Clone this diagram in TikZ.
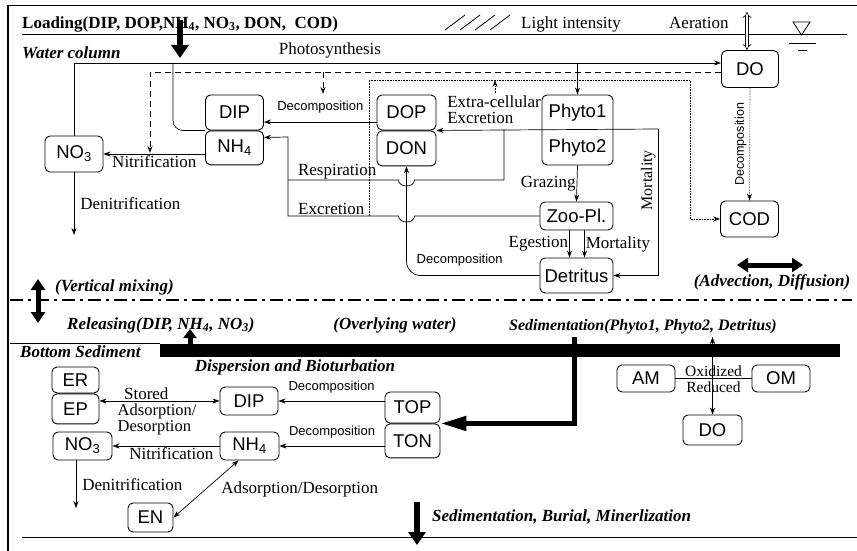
\documentclass[tikz,border=0pt]{standalone}
\usepackage{fontspec}
\setmainfont{Liberation Serif}
\setsansfont{Liberation Sans}
\usetikzlibrary{arrows.meta,positioning}

\begin{document}
\begin{tikzpicture}[x=1pt, y=-1pt,
        box/.style={rectangle, draw=black, line width=0.9pt, rounded corners=5pt, inner sep=0pt, align=center, font=\sffamily\fontsize{18.5}{20}\selectfont},
        lbl/.style={inner sep=1pt, font=\fontsize{17}{18}\selectfont},
        hdr/.style={inner sep=0pt, font=\bfseries\itshape\fontsize{17}{19}\selectfont},
        tinylbl/.style={inner sep=1pt, font=\sffamily\fontsize{13}{14}\selectfont},
        flow/.style={line width=0.7pt},
        arrow/.style={->, line width=0.7pt, >={Stealth[length=7pt,width=5pt]}},
        dblarrow/.style={<->, line width=0.7pt, >={Stealth[length=7pt,width=5pt]}},
        dasharrow/.style={arrow, line width=0.9pt, dash pattern=on 6pt off 4pt},
        dotarrow/.style={arrow, line width=0.6pt, densely dotted},
        fatarrow/.style={-{Triangle[length=13pt,width=17pt]}, line width=6pt},
        fatdbl/.style={{Triangle[length=11pt,width=14pt]}-{Triangle[length=11pt,width=14pt]}, line width=5pt}
    ]

    \useasboundingbox (0,0) rectangle (857,551);

    % Frame and surface
    \draw[line width=1.6pt] (8,5) -- (8,551);
    \draw[line width=0.8pt] (8,5) -- (857,5);
    \draw[line width=0.8pt] (22,34) -- (847,34);
    \draw[line width=0.8pt] (22,537) -- (857,537);

    % Loading, light, aeration
    \node[anchor=west, inner sep=0pt, font=\bfseries\fontsize{17}{19}\selectfont] (loading) at (22,24) {Loading(DIP, DOP,NH\textsubscript{4}, NO\textsubscript{3}, DON,\ \ COD)};
    \coordinate (loadtop) at (180,20);
    \coordinate (loadend) at (180,58);
    \draw[fatarrow] (loadtop) -- (loadend);
    \foreach \x in {445,460,475,490}
        \draw[line width=0.8pt] (\x,30) -- ++(20,-15);
    \node[lbl, anchor=west] (light) at (520,24) {Light intensity};
    \node[lbl, anchor=west] (aeration) at (668,23) {Aeration};

    % Water level mark
    \draw[line width=0.8pt] (793,22) -- (810,22) -- (801.5,35) -- cycle;
    \draw[line width=0.8pt] (789,43) -- (816,43);
    \draw[line width=0.8pt] (798,50) -- (807,50);

    \node[hdr, anchor=west] (wcol) at (22,53) {Water column};
    \node[lbl] (photo) at (330,50) {Photosynthesis};

    % Water column compartments
    \node[box, minimum width=58pt, minimum height=35pt] (dipw) at (234.5,112.5) {DIP};
    \node[box, minimum width=58pt, minimum height=34pt, below=0pt of dipw] (nh4w) {NH\textsubscript{4}};
    \node[box, minimum width=58pt, minimum height=36pt] (no3w) at (74,154) {NO\textsubscript{3}};
    \node[box, minimum width=59pt, minimum height=35pt] (dopw) at (406.5,112.5) {DOP};
    \node[box, minimum width=59pt, minimum height=35pt, below=0pt of dopw] (donw) {DON};
    \node[box, minimum width=71pt, minimum height=70pt, font=\sffamily\fontsize{18.5}{35}\selectfont] (phyto) at (577.5,130) {Phyto1\\Phyto2};
    \node[box, minimum width=73pt, minimum height=28pt] (zoo) at (576.5,216) {Zoo-Pl.};
    \node[box, minimum width=73pt, minimum height=35pt] (detritus) at (576.5,275.5) {Detritus};
    \node[box, minimum width=57pt, minimum height=37pt] (dow) at (750,69) {DO};
    \node[box, minimum width=58pt, minimum height=36pt] (cod) at (749.5,219) {COD};

    % Aeration
    \coordinate (aertop) at (747,12);
    \draw[double, double distance=2.5pt, line width=0.6pt, {Implies}-{Implies}] (aertop) -- (dow.north -| aertop);

    % Photosynthesis (uptake, oxygen production)
    \coordinate (psy) at (0,63);
    \coordinate (upt) at (173,63);
    \draw[arrow] (no3w.north) |- (dow.west |- psy);
    \draw[flow, rounded corners=10pt] (upt) |- (dipw.south west);
    \draw[arrow] (phyto.north |- psy) -- (phyto.north);

    % Oxygen consumption
    \coordinate (o2y) at (0,72);
    \coordinate (nito2) at (150,153);
    \coordinate (deco2) at (323,94);
    \draw[dasharrow] (dow.west |- o2y) -| (nito2);
    \draw[dasharrow] (deco2 |- o2y) -- (deco2);

    % COD path
    \coordinate (codl) at (369,80);
    \coordinate (codr) at (690,80);
    \coordinate (ecx) at (495,93);
    \draw[dotarrow] (codl |- zoo.west) -- (codl) -- (codr) |- (cod.west);
    \draw[dotarrow] (ecx) -- (ecx |- codl);
    \draw[dotarrow] (dow.south) -- node[rotate=90, anchor=south, inner sep=3pt, font=\sffamily\fontsize{12.5}{13}\selectfont] {Decomposition} (cod.north);

    % Extra-cellular excretion and mortality
    \coordinate (mort) at (658,129);
    \draw[arrow] (mort) -- (dopw.south east);
    \node[lbl, align=left, inner sep=0pt, font=\fontsize{17}{16}\selectfont] (ece) at (494,110) {Extra-cellular\\Excretion};
    \draw[arrow] (mort) |- node[pos=0.175, rotate=90, anchor=south, inner sep=2pt, font=\fontsize{16}{17}\selectfont] {Mortality} (detritus.east);

    % Respiration and excretion to NH4
    \coordinate (resp) at (504,129);
    \coordinate (rx) at (288,137);
    \draw[flow] (resp) |- (414.5,180) .. controls (414.5,188) and (398.5,188) .. (398.5,180)
        -- node[lbl, above, xshift=-6pt] {Respiration} (rx |- 0,180);
    \draw[arrow] (zoo.west) -- (414.5,216) .. controls (414.5,224) and (398.5,224) .. (398.5,216)
        -- node[lbl, above, xshift=-12pt] {Excretion} (rx |- zoo.west) -- (rx) -- ([yshift=-7pt]nh4w.north east);

    % Decomposition of detritus
    \draw[arrow, rounded corners=14pt] (detritus.west) -| node[tinylbl, pos=0.3, above=8pt] {Decomposition} (donw.south);
    \draw[arrow] ([yshift=-9.5pt]dopw.west) -- node[tinylbl, above=7pt] {Decomposition} ([yshift=-9.5pt]dipw.east);

    % Grazing, egestion, mortality
    \draw[arrow] (phyto.south) -- node[lbl, left] {Grazing} (zoo.north);
    \draw[arrow] ([xshift=-7pt]zoo.south) -- node[lbl, left] {Egestion} ([xshift=-7pt]detritus.north);
    \draw[arrow] ([xshift=8pt]zoo.south) -- node[lbl, right] {Mortality} ([xshift=8pt]detritus.north);

    % Nitrification, denitrification
    \coordinate (denw) at (74,235);
    \draw[arrow] (nh4w.west |- no3w.east) -- node[lbl, below] {Nitrification} (no3w.east);
    \draw[arrow] (no3w.south) -- node[lbl, right=5pt] {Denitrification} (denw);

    % Advection, mixing
    \coordinate (advl) at (737,265);
    \coordinate (advr) at (803,265);
    \draw[fatdbl] (advl) -- (advr);
    \node[hdr] (adv) at (772,282) {(Advection, Diffusion)};
    \coordinate (vmt) at (38,279);
    \coordinate (vmb) at (38,323);
    \draw[line width=1.3pt, dash pattern=on 13pt off 5pt on 3pt off 5pt] (10,300) -- (852,300);
    \draw[fatdbl] (vmt) -- (vmb);
    \node[hdr, anchor=west] (vmix) at (55,287) {(Vertical mixing)};

    % Overlying water
    \node[hdr, anchor=west] (rel) at (67,325) {Releasing(DIP, NH\textsubscript{4}, NO\textsubscript{3})};
    \node[hdr] (overly) at (395,325) {(Overlying water)};
    \node[hdr, font=\bfseries\itshape\fontsize{16}{18}\selectfont] (sedim) at (643,327) {Sedimentation(Phyto1, Phyto2, Detritus)};

    % Sediment surface
    \draw[line width=0.8pt] (10,343) -- (160,343);
    \fill (160,344) rectangle (840,357);
    \coordinate (relb) at (190,344);
    \coordinate (relt) at (190,329);
    \draw[-{Triangle[length=9pt,width=13pt]}, line width=5pt] (relb) -- (relt);
    \node[hdr, anchor=west] (botsed) at (20,352) {Bottom Sediment};
    \node[hdr] (disp) at (295,367) {Dispersion and Bioturbation};

    % Sediment compartments
    \node[box, minimum width=47pt, minimum height=26pt] (er) at (75.5,380) {ER};
    \node[box, minimum width=47pt, minimum height=30pt, below=0pt of er] (ep) {EP};
    \node[box, minimum width=58pt, minimum height=28pt] (dips) at (249,401) {DIP};
    \node[box, minimum width=55pt, minimum height=31pt] (tops) at (412.5,407.5) {TOP};
    \node[box, minimum width=55pt, minimum height=34pt, below=0pt of tops] (tons) {TON};
    \node[box, minimum width=59pt, minimum height=28pt] (nh4s) at (249.5,446) {NH\textsubscript{4}};
    \node[box, minimum width=59pt, minimum height=28pt] (no3s) at (82.5,446) {NO\textsubscript{3}};
    \node[box, minimum width=45pt, minimum height=29pt] (en) at (150.5,517.5) {EN};
    \node[box, minimum width=58pt, minimum height=27pt] (am) at (646,378.5) {AM};
    \node[box, minimum width=58pt, minimum height=27pt] (om) at (781,378.5) {OM};
    \node[box, minimum width=59pt, minimum height=30pt] (dos) at (712.5,430) {DO};

    % Sedimentation into the bed
    \coordinate (sedtop) at (574,337);
    \draw[line width=5pt, -{Triangle[length=26pt,width=14pt]}] (sedtop) |- (tops.south east);

    % Redox
    \coordinate (oxtop) at (712.5,337);
    \draw[flow] (am) -- node[lbl, above, inner sep=1.5pt, font=\fontsize{15.5}{16}\selectfont] {Oxidized} node[lbl, below, inner sep=2.5pt, font=\fontsize{15.5}{16}\selectfont] {Reduced} (om);
    \draw[dblarrow, line width=0.6pt] (oxtop) -- (dos.north);

    % Sediment processes
    \draw[dblarrow] (dips.west) -- node[lbl, pos=0.61, above, inner sep=1pt] {Stored}
        node[lbl, pos=0.52, below, inner sep=3pt, align=left, font=\fontsize{16.5}{14}\selectfont] {Adsorption/\\Desorption} (ep.east |- dips.west);
    \draw[arrow] (tops.west |- dips.east) -- node[tinylbl, above=6pt] {Decomposition} (dips.east);
    \draw[arrow] (tons.west |- nh4s.east) -- node[tinylbl, above=6pt] {Decomposition} (nh4s.east);
    \draw[arrow] (nh4s.west) -- node[lbl, below, pos=0.45] {Nitrification} (no3s.east);
    \coordinate (dens) at (76,508);
    \draw[arrow, line width=0.5pt] (dens |- no3s.south) -- node[lbl, right=5pt] {Denitrification} (dens);
    \draw[dblarrow] (en.east) -- node[lbl, right=14pt] {Adsorption/Desorption} ([xshift=-11pt]nh4s.south);

    % Burial
    \coordinate (burt) at (417,502);
    \coordinate (burb) at (417,545);
    \draw[fatarrow] (burt) -- (burb);
    \node[hdr, anchor=west] (burial) at (432,517) {Sedimentation, Burial, Minerlization};

\end{tikzpicture}
\end{document}
